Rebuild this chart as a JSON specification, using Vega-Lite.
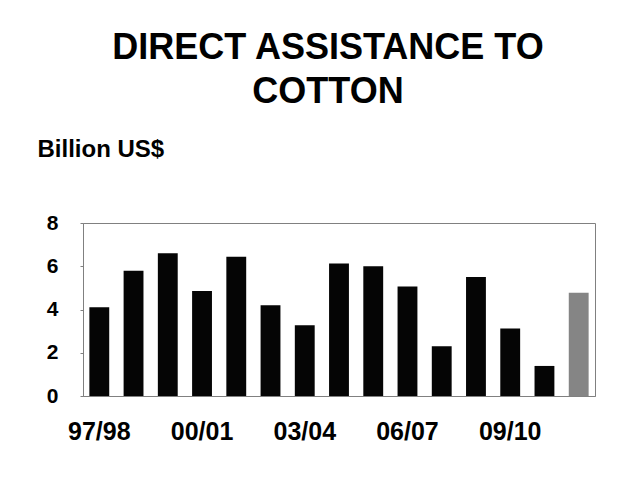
{
  "$schema": "https://vega.github.io/schema/vega-lite/v6.json",
  "width": 512,
  "height": 173,
  "autosize": "none",
  "padding": {"left": 83, "top": 223, "right": 39, "bottom": 100},
  "background": "white",
  "config": {
    "font": "Liberation Sans",
    "view": {"stroke": "#808080", "strokeWidth": 1}
  },
  "title": {
    "text": ["DIRECT ASSISTANCE TO", "COTTON"],
    "font": "Liberation Sans",
    "fontSize": 36,
    "fontWeight": "bold",
    "lineHeight": 44,
    "color": "#000000",
    "anchor": "middle",
    "frame": "group",
    "dx": -11,
    "offset": 26
  },
  "data": {
    "values": [
      {"season": "97/98", "value": 4.1, "type": "actual"},
      {"season": "98/99", "value": 5.79, "type": "actual"},
      {"season": "99/00", "value": 6.6, "type": "actual"},
      {"season": "00/01", "value": 4.85, "type": "actual"},
      {"season": "01/02", "value": 6.44, "type": "actual"},
      {"season": "02/03", "value": 4.2, "type": "actual"},
      {"season": "03/04", "value": 3.27, "type": "actual"},
      {"season": "04/05", "value": 6.13, "type": "actual"},
      {"season": "05/06", "value": 6.0, "type": "actual"},
      {"season": "06/07", "value": 5.06, "type": "actual"},
      {"season": "07/08", "value": 2.3, "type": "actual"},
      {"season": "08/09", "value": 5.5, "type": "actual"},
      {"season": "09/10", "value": 3.12, "type": "actual"},
      {"season": "10/11", "value": 1.39, "type": "actual"},
      {"season": "11/12", "value": 4.77, "type": "estimate"}
    ]
  },
  "mark": {"type": "bar"},
  "encoding": {
    "x": {
      "field": "season",
      "type": "ordinal",
      "sort": null,
      "scale": {"paddingInner": 0.42, "paddingOuter": 0.186},
      "axis": {
        "title": null,
        "labelAngle": 0,
        "values": ["97/98", "00/01", "03/04", "06/07", "09/10"],
        "labelFont": "Liberation Sans",
        "labelFontSize": 25,
        "labelFontWeight": "bold",
        "labelColor": "#000000",
        "labelPadding": 23,
        "ticks": false,
        "domainColor": "#808080",
        "labelOverlap": false
      }
    },
    "y": {
      "field": "value",
      "type": "quantitative",
      "scale": {"domain": [0, 8], "nice": false},
      "axis": {
        "title": "Billion US$",
        "titleAngle": 0,
        "titleAlign": "left",
        "titleBaseline": "alphabetic",
        "titleX": -46,
        "titleY": -67,
        "titleFont": "Liberation Sans",
        "titleFontSize": 24,
        "titleFontWeight": "bold",
        "titleColor": "#000000",
        "values": [0, 2, 4, 6, 8],
        "grid": false,
        "labelFont": "Liberation Sans",
        "labelFontSize": 21,
        "labelFontWeight": "bold",
        "labelColor": "#000000",
        "labelPadding": 22,
        "tickSize": 3,
        "tickColor": "#808080",
        "domainColor": "#808080"
      }
    },
    "color": {
      "field": "type",
      "type": "nominal",
      "scale": {"domain": ["actual", "estimate"], "range": ["#050505", "#858585"]},
      "legend": null
    }
  }
}
